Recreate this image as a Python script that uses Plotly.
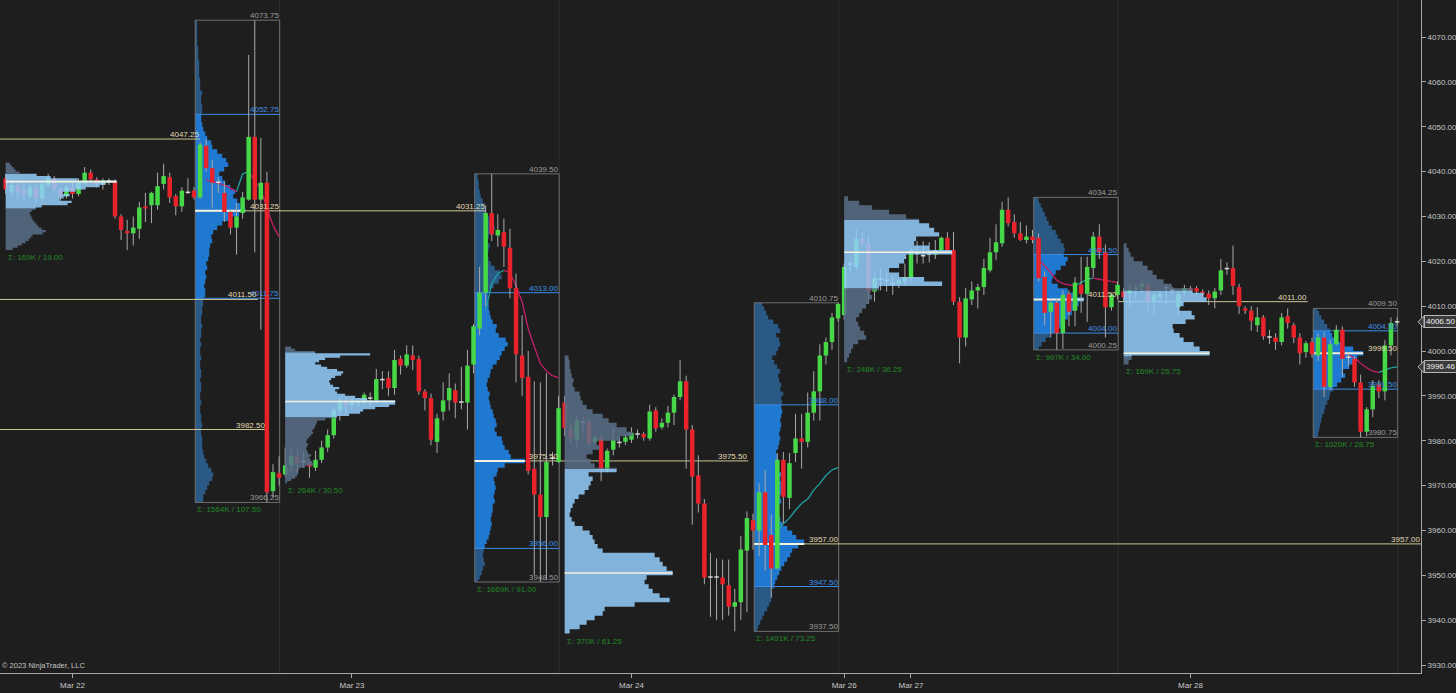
import plotly.graph_objects as go

FONT = "Liberation Sans, Arial, sans-serif"
BG = "#1e1e1e"

# ---------------- 30-minute bars (open, high, low, close), 46 per session ----------------
mar22_bars = [
    (4038.5, 4039.5, 4035, 4036), (4035.5, 4038, 4034.5, 4037), (4037, 4038, 4034, 4035.5),
    (4036, 4037, 4033.5, 4034.75), (4034.5, 4037.5, 4034, 4036.5), (4036.5, 4037, 4033, 4034),
    (4034, 4038, 4033.5, 4037.25), (4037, 4039.5, 4036.5, 4038.5), (4038.5, 4039, 4035.5, 4036),
    (4036, 4036.5, 4033.5, 4034.5), (4034.5, 4037, 4034, 4036.5), (4036.5, 4037.5, 4034, 4035),
    (4035, 4038.5, 4034.5, 4037.5), (4037.5, 4041, 4037, 4039.75), (4039.75, 4040.5, 4037.5, 4038.25),
    (4038.25, 4038.75, 4036.5, 4037.25), (4037.25, 4038.5, 4036, 4038), (4038, 4038.5, 4037, 4037.75),
    (4037.75, 4038.25, 4029.5, 4030), (4030, 4030.5, 4024.75, 4027), (4026.75, 4029.25, 4022.5, 4026.25),
    (4026.25, 4030, 4023.5, 4027.5), (4027.25, 4033.25, 4025, 4032), (4032.25, 4035.25, 4028.75, 4031.75),
    (4032.5, 4035.5, 4028.5, 4035.25), (4032.5, 4039.75, 4031.5, 4036.75), (4037.25, 4041.75, 4036, 4039),
    (4038.75, 4039.75, 4033, 4034.25), (4034.5, 4035, 4030.25, 4032.25), (4032.25, 4036.5, 4031, 4035.75),
    (4035.5, 4038.5, 4035, 4035.25), (4035.75, 4036.5, 4033.75, 4034.25), (4034.25, 4046.5, 4034, 4046),
    (4045.75, 4047.25, 4040, 4040.75), (4040.75, 4042.5, 4032, 4037.5), (4037.75, 4038.75, 4035.25, 4037.5),
    (4035.25, 4037.75, 4028.75, 4031), (4031, 4031.5, 4026, 4027.5), (4027.5, 4033, 4021.5, 4030),
    (4030.75, 4035.5, 4029.5, 4034.25), (4033.75, 4066, 4033.5, 4047.75), (4047.75, 4073.75, 4022, 4033.75),
    (4033.75, 4047.5, 4004.75, 4037.5), (4037.5, 4040, 3966.25, 3968.5), (3968.75, 3974.75, 3967.25, 3973),
    (3972.75, 3976.5, 3970, 3971.75),
]
mar23_bars = [
    (3972.5, 3978.5, 3972, 3974.5), (3974.5, 3978.5, 3973, 3976.5), (3976.5, 3978, 3972.75, 3975),
    (3975.25, 3977.5, 3974, 3975.5), (3975, 3976, 3971.75, 3974.25), (3974, 3977.75, 3973.25, 3975.75),
    (3975.75, 3980, 3975, 3978.5), (3978.5, 3982.5, 3977.5, 3981.25), (3981.25, 3987.5, 3980.5, 3986.75),
    (3986.75, 3989.75, 3984.5, 3989), (3989, 3989.5, 3985.75, 3988), (3988, 3989.5, 3987, 3988.75),
    (3988.75, 3989.5, 3987.5, 3988.5), (3988.5, 3990.75, 3988, 3990.25), (3989.5, 3990.75, 3987.75, 3989.5),
    (3989, 3996, 3988.5, 3993.75), (3993.75, 3995.5, 3991.5, 3993.5), (3994, 3995.5, 3990, 3991.75),
    (3991.75, 4000.25, 3990.25, 3998), (3998.25, 3999, 3994.75, 3996.75), (3996.75, 4001.25, 3996.25, 3999.25),
    (3999, 4001.25, 3995.75, 3998), (3998.25, 3999, 3990.25, 3991), (3991, 3991.5, 3986.75, 3989.5),
    (3989.5, 3990.5, 3979, 3980.25), (3979.75, 3986, 3977.25, 3985), (3986.5, 3993, 3984.5, 3989),
    (3989, 3995, 3986.75, 3991.75), (3991.25, 3992.75, 3985, 3988.5), (3988.5, 3996.5, 3987, 3988.75),
    (3988.5, 4000.25, 3982.5, 3996.75), (3997, 4006, 3995, 4005.5), (4005, 4018.75, 4003.5, 4013),
    (4013, 4032.5, 4010, 4030.75), (4030.75, 4039.5, 4024.5, 4026), (4025.75, 4030.5, 4023.25, 4027),
    (4026.5, 4029.5, 4018.75, 4023.25), (4023, 4027.25, 4011.75, 4014), (4014, 4017.25, 3993, 3999.25),
    (3999, 4008, 3990, 3994), (3994.25, 4000, 3972.5, 3973.25), (3973.75, 3993.25, 3950, 3968),
    (3968, 3993, 3948.5, 3963), (3963, 3995, 3949, 3975.25), (3976.25, 3977.5, 3974.5, 3976),
    (3975.25, 3990, 3975, 3987.25),
]
mar24_bars = [
    (3988.5, 3990, 3981, 3982.75), (3982.5, 3983.75, 3979.5, 3980.5), (3980.25, 3985.75, 3978.5, 3984.5),
    (3984.25, 3985.25, 3981.75, 3984), (3984.25, 3985, 3978.75, 3979.5), (3979.75, 3981.25, 3979.5, 3980.75),
    (3980.5, 3981.25, 3971, 3973.5), (3973.5, 3978.25, 3973, 3977.75), (3978, 3983, 3976.75, 3980.25),
    (3979.75, 3981, 3978.5, 3979.5), (3979.75, 3981.5, 3979, 3980.75), (3980.25, 3983, 3979.5, 3981.75),
    (3981.5, 3982.5, 3980.5, 3981.5), (3981.5, 3982, 3980, 3980.75), (3980.5, 3988, 3980, 3986.5),
    (3986.75, 3987.5, 3982, 3982.75), (3983, 3985, 3982.5, 3984), (3984, 3987.75, 3983, 3986.25),
    (3986.25, 3990.25, 3983.5, 3989.75), (3989.75, 3998, 3989, 3993.25), (3993.25, 3994.5, 3973.75, 3982.5),
    (3982.5, 3983.5, 3961.25, 3972), (3972.25, 3976.75, 3964, 3966), (3966, 3967, 3948, 3949.5),
    (3949.75, 3955, 3940.75, 3949.5), (3949.5, 3953.75, 3940, 3949.75), (3949.5, 3953.5, 3940, 3948),
    (3947.75, 3953.5, 3941, 3943), (3943, 3947, 3937.5, 3944), (3944, 3958.75, 3940, 3955.75),
    (3955.5, 3964.25, 3941.75, 3962.75), (3962.25, 3963.75, 3955.75, 3960), (3960, 3970.5, 3954.25, 3968.5),
    (3968.5, 3973.5, 3951, 3956.75), (3959, 3963.5, 3945, 3951.5), (3951.5, 3977.25, 3951.25, 3975.75),
    (3975.75, 3977.5, 3961.5, 3967.5), (3967.25, 3977.25, 3964.75, 3975), (3977.25, 3986, 3975.25, 3980.5),
    (3980.5, 3986, 3973.75, 3979.75), (3979.75, 3990.75, 3978.5, 3986.25), (3986.25, 3995.5, 3984.5, 3991),
    (3991, 4001.5, 3984.5, 3999), (3999, 4003, 3997, 4002), (4002, 4008.5, 4000.25, 4007.5),
    (4007.25, 4010.75, 4006.5, 4010.5),
]
mar27_bars = [
    (4008, 4019.5, 4007, 4018.75), (4019.25, 4020, 4017.5, 4019.5), (4018.75, 4027, 4018, 4025),
    (4025, 4026.5, 4023, 4024), (4024, 4025.75, 4010.5, 4013.25), (4013.25, 4017.5, 4011, 4016.25),
    (4016, 4018.5, 4013.5, 4016), (4015.75, 4017.75, 4013.25, 4015.75), (4015, 4016.75, 4012.5, 4015),
    (4015, 4016.25, 4014, 4015.75), (4015.5, 4019.5, 4014.75, 4016.5), (4016.25, 4023.25, 4015.5, 4022.5),
    (4021.75, 4024.5, 4019.5, 4021.75), (4021.25, 4024.5, 4019.5, 4021.25), (4021.75, 4024.25, 4019.75, 4021.5),
    (4021.5, 4024.75, 4020.5, 4022.5), (4022.5, 4025.5, 4022, 4025.25), (4025.25, 4026.5, 4022, 4022.5),
    (4022.5, 4026.5, 4010.25, 4011), (4011, 4012, 3997.25, 4003), (4003, 4014, 4001, 4011.75),
    (4011.5, 4015.5, 4010.25, 4013.5), (4013.5, 4015, 4009.5, 4014.25), (4014.25, 4020.5, 4012.5, 4018.5),
    (4018, 4025.25, 4017.5, 4022), (4022, 4028.25, 4020.25, 4024.25), (4024, 4033.25, 4023.25, 4031.5),
    (4031.5, 4034.25, 4027.75, 4028.5), (4028.75, 4030.5, 4025.25, 4026.25), (4026.25, 4028.75, 4024.5, 4024.75),
    (4024.75, 4028, 4024, 4025.5), (4025.5, 4027, 4024, 4024.75), (4025.25, 4026.25, 4015.5, 4016.25),
    (4016.5, 4017.75, 4005.75, 4008.5), (4008.75, 4011.5, 4003, 4010.75), (4010.75, 4011.75, 4000.25, 4004),
    (4004, 4013.5, 4000.5, 4012.5), (4012.75, 4013.5, 4005.5, 4008.75), (4009, 4016.5, 4005.5, 4015.25),
    (4014.75, 4021, 4008.5, 4012.75), (4012.75, 4021, 4006.5, 4018.75), (4018.5, 4026.5, 4016.5, 4025.5),
    (4025.5, 4028.25, 4020.5, 4022), (4022, 4023.75, 4003, 4009.75), (4009.75, 4013, 4009, 4012.5),
    (4012.5, 4015.5, 4011.5, 4014.75),
]
mar28_bars = [
    (4013.25, 4014, 4011, 4012), (4012.75, 4014.75, 4010, 4013.5), (4013.75, 4015, 4011.5, 4014.25),
    (4014.25, 4015.75, 4013, 4015), (4014.75, 4015.5, 4009, 4011), (4011.25, 4012.75, 4008, 4012.5),
    (4012, 4013.5, 4011, 4012.75), (4014, 4015, 4010.5, 4014.25), (4013.5, 4014.25, 4012.75, 4013.75),
    (4009.75, 4013.5, 4008, 4012.75), (4013.25, 4014.75, 4012.5, 4014), (4014, 4014.5, 4013, 4013.5),
    (4014, 4014.5, 4012.5, 4013.25), (4013.25, 4013.75, 4012.25, 4012.75), (4012.75, 4013.5, 4010.25, 4011.75),
    (4011.75, 4014, 4009.5, 4013.25), (4013.5, 4020.5, 4012.5, 4018), (4018.25, 4019.75, 4017, 4018.5),
    (4018.5, 4023.5, 4012.5, 4014.5), (4014.25, 4015, 4008.25, 4010), (4009.5, 4010, 4008.25, 4009),
    (4009, 4010, 4004.5, 4006.75), (4005.75, 4009.75, 4004.25, 4007.5), (4007.5, 4008, 4002.5, 4003.25),
    (4003.25, 4004.75, 4001.5, 4003), (4003, 4004, 4000.25, 4002), (4002, 4008.5, 4001.25, 4007.5),
    (4007.75, 4009.5, 4005, 4006.25), (4005.75, 4006.25, 4001.75, 4003), (4003, 4004, 3997, 3999.5),
    (3999.75, 4002.25, 3998.5, 4001.75), (4002, 4003, 3998.5, 3999.25), (3999, 4004, 3997.75, 4003),
    (4003, 4004.25, 3989.75, 3992), (3992, 4002.5, 3991.25, 4001.5), (4001.5, 4005.75, 4001.25, 4004.75),
    (4004.75, 4005.5, 3994.25, 3998.25), (3998.5, 3999.5, 3996.5, 3998.75), (3998.25, 3998.75, 3992, 3993),
    (3993, 3994.75, 3980.75, 3982), (3982, 3987.5, 3981, 3987), (3987, 3993.5, 3985.25, 3992.25),
    (3992.5, 3993.5, 3989.5, 3991), (3991, 4002.5, 3989, 4001.25), (4001.25, 4007.5, 3999, 4006.25),
    (4006.5, 4007.5, 4005.5, 4006.5),
]

# ---------------- x-axis date ticks (bar index where the day begins) ----------------
date_tick_bars = [11, 57, 103, 138, 149, 195]
date_tick_labels = ["Mar 22", "Mar 23", "Mar 24", "Mar 26", "Mar 27", "Mar 28"]
session_starts = [0, 46, 92, 138, 184]

# ---------------- RTH volume profiles (1-point bins, volume in relative units) ----------------
rth_names = ["mar22", "mar23", "mar24", "mar27", "mar28"]
rth_bin_base = [3966, 3948, 3937, 4000, 3980]
rth_low = [3966.25, 3948.50, 3937.50, 4000.25, 3980.75]
rth_high = [4073.75, 4039.50, 4010.75, 4034.25, 4009.50]
rth_val = [4011.75, 3956.00, 3947.50, 4004.00, 3991.50]
rth_vah = [4052.75, 4013.00, 3988.00, 4021.50, 4004.50]
rth_poc = [4031.25, 3975.50, 3957.00, 4011.50, 3999.50]
rth_sigma = ["Σ: 1564K / 107.50", "Σ: 1669K / 91.00", "Σ: 1491K / 73.25", "Σ: 997K / 34.00", "Σ: 1020K / 28.75"]
rth_vol_mar22 = [8, 8, 10, 12, 14, 17, 18, 16, 13, 11, 9, 8, 7, 7, 7, 6, 6, 7, 6, 6,
                 5, 5, 6, 5, 5, 6, 6, 5, 6, 6, 5, 5, 6, 5, 5, 6, 5, 6, 6, 7,
                 6, 6, 7, 7, 8, 8, 10, 10, 9, 10, 11, 10, 12, 11, 13, 14, 14, 15, 17, 16,
                 18, 22, 27, 34, 44, 50, 45, 42, 38, 40, 35, 30, 27, 24, 29, 33, 31, 27, 22, 17,
                 16, 12, 10, 8, 7, 6, 6, 7, 7, 6, 6, 7, 5, 5, 5, 4, 4, 4, 4, 3,
                 3, 3, 2, 2, 2, 2, 2, 2]
rth_vol_mar23 = [3, 5, 7, 8, 10, 9, 8, 9, 10, 12, 14, 15, 16, 17, 16, 17, 18, 18, 20, 19,
                 20, 21, 20, 19, 22, 23, 30, 50, 36, 34, 30, 28, 27, 22, 20, 22, 21, 19, 18, 16,
                 15, 14, 15, 13, 12, 13, 15, 16, 18, 22, 25, 27, 30, 33, 31, 24, 21, 22, 18, 16,
                 15, 14, 14, 13, 13, 15, 19, 24, 27, 25, 20, 16, 14, 13, 14, 15, 13, 14, 17, 20,
                 18, 15, 12, 11, 10, 8, 6, 5, 4, 4, 3, 3]
rth_vol_mar24 = [3, 4, 6, 8, 10, 13, 15, 17, 18, 17, 20, 21, 23, 25, 27, 30, 33, 36, 38, 44,
                 50, 42, 38, 33, 28, 26, 25, 24, 25, 27, 26, 28, 30, 28, 26, 27, 24, 25, 24, 23,
                 22, 24, 25, 26, 25, 26, 27, 26, 27, 28, 27, 28, 27, 29, 26, 27, 25, 24, 26, 23,
                 20, 18, 22, 24, 26, 25, 22, 26, 24, 19, 14, 12, 10, 8]
rth_vol_mar27 = [5, 8, 12, 16, 22, 27, 30, 34, 38, 42, 45, 50, 40, 34, 24, 18, 19, 22, 27, 32,
                 34, 30, 31, 30, 27, 24, 22, 18, 15, 13, 11, 9, 7, 5, 4]
rth_vol_mar28 = [4, 5, 6, 7, 8, 9, 11, 12, 14, 16, 17, 20, 24, 28, 32, 30, 36, 42, 44, 50,
                 40, 28, 22, 19, 17, 14, 11, 8, 6, 4]
rth_vols = [rth_vol_mar22, rth_vol_mar23, rth_vol_mar24, rth_vol_mar27, rth_vol_mar28]

# ---------------- overnight (ETH) volume profiles ----------------
eth_bin_base = [4022.5, 3970.5, 3937.0, 3997.5, 3997.0]
eth_bin_size = [0.5, 0.5, 1.0, 1.0, 1.0]
eth_val = [4031.75, 3985.25, 3937.00, 4014.00, 3998.75]
eth_vah = [4039.50, 3999.75, 3973.75, 4029.25, 4013.50]
eth_poc = [4037.75, 3988.75, 3950.50, 4022.00, 3999.50]
eth_sigma = ["Σ: 169K / 19.00", "Σ: 264K / 30.50", "Σ: 370K / 61.25", "Σ: 248K / 36.25", "Σ: 169K / 26.75"]
eth_vol_mar22 = [7, 12, 16, 20, 23, 25, 27, 37, 40, 36, 33, 31, 29, 27, 26, 25, 24, 26, 30, 36,
                 62, 66, 54, 58, 64, 57, 70, 80, 94, 100, 111, 72, 45, 31, 14, 10, 8, 6, 4]
eth_vol_mar23 = [2, 6, 10, 12, 13, 12, 14, 20, 28, 27, 25, 24, 26, 23, 22, 21, 22, 23, 21, 22,
                 24, 26, 28, 27, 29, 30, 31, 32, 40, 52, 64, 75, 78, 90, 104, 110, 110, 82, 70, 60,
                 52, 50, 54, 48, 45, 44, 46, 50, 56, 58, 52, 42, 36, 30, 34, 40, 55, 85, 30, 10, 6]
eth_vol_mar24 = [5, 15, 22, 30, 38, 40, 70, 105, 95, 88, 84, 80, 82, 108, 102, 98, 95, 90, 38, 33,
                 30, 28, 25, 18, 10, 7, 5, 6, 8, 10, 14, 20, 24, 26, 28, 24, 52, 30, 26, 22,
                 28, 35, 32, 55, 68, 62, 52, 44, 38, 28, 22, 18, 16, 15, 10, 8, 9, 7, 6, 5, 5, 4]
eth_vol_mar27 = [3, 5, 7, 9, 14, 22, 20, 16, 14, 12, 15, 18, 22, 25, 28, 26, 35, 98, 80, 55,
                 45, 55, 60, 62, 108, 85, 70, 72, 95, 90, 85, 75, 62, 45, 28, 15, 4]
eth_vol_mar28 = [5, 8, 86, 76, 70, 60, 56, 50, 49, 62, 71, 68, 56, 60, 83, 80, 69, 48, 40, 33,
                 29, 24, 19, 10, 7, 5, 3]
eth_vols = [eth_vol_mar22, eth_vol_mar23, eth_vol_mar24, eth_vol_mar27, eth_vol_mar28]

# ---------------- untouched POC levels (price, created at bar, touched at bar) ----------------
naked_poc_price = [4047.25, 4011.50, 3982.50, 4031.25, 3975.50, 3957.00, 4011.00]
naked_poc_from = [None, None, None, 31.2, 77.2, 123.2, 183.1]
naked_poc_to = [32.0, 41.5, 42.9, 79.0, 122.2, None, 214.3]

# ---------------- session VWAP (first bar, values) ----------------
vwap_start = [33, 79, 127, 170, 221]
vwap_mar22 = [4038.1, 4037.75, 4037.4, 4037.0, 4036.3, 4035.5, 4039.5, 4040.0, 4038.0, 4036.0, 4032.0, 4028.0, 4025.5]
vwap_mar23 = [4009.0, 4015.0, 4017.25, 4018.0, 4017.5, 4014.5, 4011.0, 4005.0, 4001.0, 3997.25, 3995.5, 3994.5, 3994.0]
vwap_mar24 = [3960.0, 3961.5, 3962.75, 3964.5, 3966.0, 3967.0, 3969.0, 3970.5, 3972.25, 3973.5, 3974.0]
vwap_mar27 = [4020.25, 4019.0, 4017.5, 4015.75, 4015.0, 4014.75, 4014.6, 4015.25, 4016.0, 4016.25, 4016.0, 4015.75, 4015.5, 4015.25]
vwap_mar28 = [3999.1, 3998.5, 3997.25, 3996.25, 3995.5, 3995.25, 3995.75, 3996.25, 3996.46]
vwaps = [vwap_mar22, vwap_mar23, vwap_mar24, vwap_mar27, vwap_mar28]

last_price = 4006.50
last_vwap = 3996.46

# ---------------- layout constants ----------------
X_MIN, X_MAX = -0.93, 232.94
Y_MIN, Y_MAX = 3928.22, 4078.25
PLOT_W = 1421
PX_PER_BAR = PLOT_W / (X_MAX - X_MIN)
VOL_TO_BARS = 1.0 / PX_PER_BAR          # one volume unit = one pixel of width
RTH_FROM, RTH_TO = 31.2, 45.1           # RTH window within a session (bar offsets)

C_UP, C_DN, C_DOJI, C_WICK = "#46d846", "#e8232b", "#d8d8d8", "#a9a9a9"
C_RTH_VA, C_RTH_OUT = "#2079d0", "#2b5985"
C_ETH_VA, C_ETH_OUT = "rgba(148,206,253,0.85)", "rgba(89,112,136,0.85)"
C_BOX, C_VA_LINE, C_POC_LINE, C_NAKED = "#6f6f6f", "#3a8ce6", "#f4f1dc", "#cdc594"
C_GRAY_TXT, C_BLUE_TXT, C_KHAKI_TXT, C_SIGMA = "#9c9c9c", "#3d8ee8", "#e2dbb2", "#218a27"

bars = mar22_bars + mar23_bars + mar24_bars + mar27_bars + mar28_bars
opens = [b[0] for b in bars]
highs = [b[1] for b in bars]
lows = [b[2] for b in bars]
closes = [b[3] for b in bars]

fig = go.Figure()
annotations = []


def add_label(x, y, text, color, anchor="right", yanchor="bottom", yshift=-1, size=8):
    annotations.append(dict(x=x, y=y, xref="x", yref="y", text=text, showarrow=False,
                            xanchor=anchor, yanchor=yanchor, yshift=yshift, borderpad=0,
                            font=dict(family=FONT, size=size, color=color)))


def profile_zones(x0, base, step, vols, lo_lim, hi_lim, zones):
    """Build step-outline polygons for each price zone of a volume profile."""
    polys = []
    for zlo, zhi in zones:
        segs = []
        for k, v in enumerate(vols):
            a = max(base + k * step, zlo, lo_lim)
            b = min(base + (k + 1) * step, zhi, hi_lim)
            if b > a:
                segs.append((a, b, v))
        if not segs:
            polys.append(None)
            continue
        xs, ys = [x0], [segs[0][0]]
        for a, b, v in segs:
            w = x0 + v * VOL_TO_BARS
            xs += [w, w]
            ys += [a, b]
        xs += [x0, x0]
        ys += [segs[-1][1], segs[0][0]]
        polys.append((xs, ys))
    return polys


def add_fill(poly, color):
    if poly is None:
        return
    fig.add_trace(go.Scatter(x=poly[0], y=poly[1], mode="lines", fill="toself",
                             fillcolor=color, line=dict(width=0), hoverinfo="skip"))


# ---- RTH profiles (behind candles) ----
box_x, box_y, va_x, va_y, poc_x, poc_y = [], [], [], [], [], []
for n in range(len(rth_names)):
    s = session_starts[n]
    x0, x1 = s + RTH_FROM, s + RTH_TO
    vols = rth_vols[n]
    lo, hi = rth_low[n], rth_high[n]
    zones = [(lo, rth_val[n]), (rth_val[n], rth_vah[n]), (rth_vah[n], hi)]
    polys = profile_zones(x0, rth_bin_base[n], 1.0, vols, lo, hi, zones)
    add_fill(polys[0], C_RTH_OUT)
    add_fill(polys[1], C_RTH_VA)
    add_fill(polys[2], C_RTH_OUT)
    box_x += [x0, x1, x1, x0, x0, None]
    box_y += [hi, hi, lo, lo, hi, None]
    for p in (rth_val[n], rth_vah[n]):
        va_x += [x0, x1, None]
        va_y += [p, p, None]
    poc_x += [x0, x0 + max(vols) * VOL_TO_BARS, None]
    poc_y += [rth_poc[n], rth_poc[n], None]
    add_label(x1, hi, f"{hi:.2f}", C_GRAY_TXT)
    add_label(x1, rth_vah[n], f"{rth_vah[n]:.2f}", C_BLUE_TXT)
    add_label(x1, rth_poc[n], f"{rth_poc[n]:.2f}", C_KHAKI_TXT)
    add_label(x1, rth_val[n], f"{rth_val[n]:.2f}", C_BLUE_TXT)
    add_label(x1, lo, f"{lo:.2f}", C_GRAY_TXT)
    add_label(x0 + 0.2, lo, rth_sigma[n], C_SIGMA, anchor="left", yanchor="top", yshift=-2)

fig.add_trace(go.Scatter(x=box_x, y=box_y, mode="lines", line=dict(color=C_BOX, width=1), hoverinfo="skip"))
fig.add_trace(go.Scatter(x=va_x, y=va_y, mode="lines", line=dict(color=C_VA_LINE, width=1), hoverinfo="skip"))

# ---- untouched POC lines ----
nk_x, nk_y = [], []
for p, a, b in zip(naked_poc_price, naked_poc_from, naked_poc_to):
    a = X_MIN if a is None else a
    b = X_MAX if b is None else b
    nk_x += [a, b, None]
    nk_y += [p, p, None]
    add_label(b, p, f"{p:.2f}", C_KHAKI_TXT)
fig.add_trace(go.Scatter(x=nk_x, y=nk_y, mode="lines", line=dict(color=C_NAKED, width=1), hoverinfo="skip"))
fig.add_trace(go.Scatter(x=poc_x, y=poc_y, mode="lines", line=dict(color=C_POC_LINE, width=2), hoverinfo="skip"))

# ---- VWAP curves (teal rising, magenta falling) ----
up_x, up_y, dn_x, dn_y = [], [], [], []
for start, vals in zip(vwap_start, vwaps):
    for k in range(len(vals) - 1):
        seg_x = [start + k, start + k + 1, None]
        seg_y = [vals[k], vals[k + 1], None]
        if vals[k + 1] > vals[k]:
            up_x += seg_x
            up_y += seg_y
        else:
            dn_x += seg_x
            dn_y += seg_y
fig.add_trace(go.Scatter(x=up_x, y=up_y, mode="lines", line=dict(color="#1fa3a0", width=1.3), hoverinfo="skip"))
fig.add_trace(go.Scatter(x=dn_x, y=dn_y, mode="lines", line=dict(color="#c8206a", width=1.3), hoverinfo="skip"))

# ---- candles: wicks then bodies ----
wk_x, wk_y = [], []
body = {"up": ([], []), "dn": ([], []), "doji": ([], [])}
for i, (o, h, l, c) in enumerate(zip(opens, highs, lows, closes)):
    wk_x += [i, i, None]
    wk_y += [l, h, None]
    b_lo, b_hi = min(o, c), max(o, c)
    if b_hi - b_lo < 0.3:
        kind = "doji"
        mid = (b_lo + b_hi) / 2
        b_lo, b_hi = mid - 0.17, mid + 0.17
    else:
        kind = "up" if c > o else "dn"
    body[kind][0].extend([i, i, None])
    body[kind][1].extend([b_lo, b_hi, None])
fig.add_trace(go.Scatter(x=wk_x, y=wk_y, mode="lines", line=dict(color=C_WICK, width=1), hoverinfo="skip"))
for kind, col in (("up", C_UP), ("dn", C_DN), ("doji", C_DOJI)):
    fig.add_trace(go.Scatter(x=body[kind][0], y=body[kind][1], mode="lines",
                             line=dict(color=col, width=4.5), hoverinfo="skip"))

# ---- ETH profiles (semi-transparent, above candles) ----
eth_poc_x, eth_poc_y = [], []
for n in range(len(eth_vols)):
    x0 = session_starts[n]
    vols = eth_vols[n]
    base, step = eth_bin_base[n], eth_bin_size[n]
    lo, hi = base, base + len(vols) * step
    zones = [(lo, eth_val[n]), (eth_val[n], eth_vah[n]), (eth_vah[n], hi)]
    polys = profile_zones(x0, base, step, vols, lo, hi, zones)
    add_fill(polys[0], C_ETH_OUT)
    add_fill(polys[1], C_ETH_VA)
    add_fill(polys[2], C_ETH_OUT)
    eth_poc_x += [x0, x0 + max(vols) * VOL_TO_BARS, None]
    eth_poc_y += [eth_poc[n], eth_poc[n], None]
    add_label(x0 + 0.3, lo, eth_sigma[n], C_SIGMA, anchor="left", yanchor="top", yshift=-2)
fig.add_trace(go.Scatter(x=eth_poc_x, y=eth_poc_y, mode="lines",
                         line=dict(color=C_POC_LINE, width=1.6), hoverinfo="skip"))

# ---- session separators ----
shapes = [dict(type="line", xref="x", yref="paper", x0=s + RTH_TO, x1=s + RTH_TO, y0=0, y1=1,
               line=dict(color="#2d2d2d", width=1), layer="below") for s in session_starts]

# ---- right-side price markers (pointed tags) & copyright ----
PT_PER_PX = (Y_MAX - Y_MIN) / 673
for p, txt in ((last_price, f"{last_price:.2f}"), (last_vwap, f"{last_vwap:.2f}")):
    tip, base_x = 1.0 - 3 / PLOT_W, 1.0 + 3 / PLOT_W
    shapes.append(dict(type="path", xref="paper", yref="y", layer="above",
                       path=f"M {tip} {p} L {base_x} {p + 6 * PT_PER_PX} L {base_x} {p - 6 * PT_PER_PX} Z",
                       fillcolor="#3b3b3b", line=dict(color="#b5b5b5", width=1)))
    annotations.append(dict(x=1.0, y=p, xref="paper", yref="y", text=txt, showarrow=False,
                            xanchor="left", yanchor="middle", xshift=3, borderpad=1,
                            bgcolor="#3b3b3b", bordercolor="#b5b5b5", borderwidth=1,
                            font=dict(family=FONT, size=8, color="#f0f0f0")))
annotations.append(dict(x=0, y=0, xref="paper", yref="paper", text="© 2023 NinjaTrader, LLC",
                        showarrow=False, xanchor="left", yanchor="bottom", yshift=1,
                        font=dict(family=FONT, size=7.5, color="#c4c4c4")))

fig.update_layout(
    width=1456, height=693,
    margin=dict(l=0, r=35, t=0, b=20),
    paper_bgcolor=BG, plot_bgcolor=BG,
    showlegend=False, hovermode=False,
    annotations=annotations, shapes=shapes,
    font=dict(family=FONT, size=8, color="#c8c8c8"),
)
fig.update_xaxes(range=[X_MIN, X_MAX], tickmode="array", tickvals=date_tick_bars, ticktext=date_tick_labels,
                 showgrid=False, zeroline=False, showline=True, linecolor="#a6a6a6", linewidth=1,
                 ticks="outside", ticklen=4, tickcolor="#a6a6a6",
                 tickfont=dict(family=FONT, size=8, color="#c8c8c8"))
fig.update_yaxes(range=[Y_MIN, Y_MAX], side="right", tick0=3930, dtick=10, tickformat=".2f",
                 showgrid=False, zeroline=False, showline=True, linecolor="#a6a6a6", linewidth=1,
                 ticks="outside", ticklen=4, tickcolor="#a6a6a6",
                 tickfont=dict(family=FONT, size=8, color="#c8c8c8"))

fig.write_html("out.html", config={"displayModeBar": False},
               post_script="document.body.style.margin='0px';document.body.style.background='%s';" % BG)
